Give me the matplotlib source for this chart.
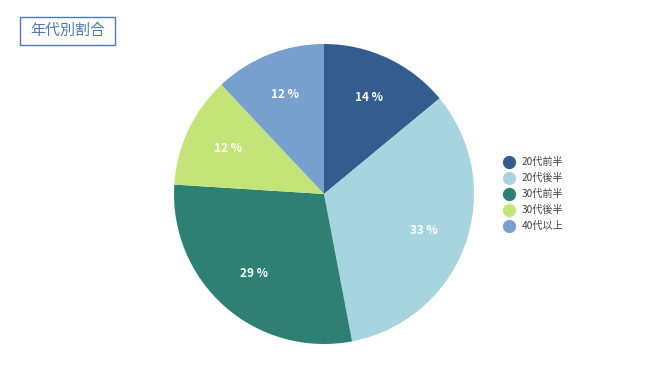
import matplotlib
matplotlib.use('Agg')
import matplotlib.pyplot as plt
from matplotlib.lines import Line2D
from matplotlib.patches import Rectangle

# Data
categories = ['20代前半', '20代後半', '30代前半', '30代後半', '40代以上']
shares = [14, 33, 29, 12, 12]
colors = ['#335D8F', '#A6D4DF', '#2E8172', '#C3E478', '#77A0CE']

plt.rcParams['font.family'] = ['Noto Sans CJK JP', 'DejaVu Sans']

fig = plt.figure(figsize=(6.5, 3.85), dpi=100)
ax = fig.add_axes([174/650, 41/385, 300/650, 300/385])

wedges, texts, autotexts = ax.pie(
    shares, colors=colors, startangle=90, counterclock=False,
    autopct=lambda p: '%d %%' % round(p), pctdistance=0.71,
    wedgeprops=dict(edgecolor='none', linewidth=0),
    textprops=dict(color='white', fontsize=8.5, fontweight='bold'))
ax.set_xlim(-1, 1); ax.set_ylim(-1, 1)
ax.set_aspect('equal')

# Legend
handles = [Line2D([], [], marker='o', linestyle='', markersize=8.5,
                  markerfacecolor=c, markeredgecolor=c) for c in colors]
leg = fig.legend(handles, categories, loc='upper left',
                 bbox_to_anchor=(499/650, 1 - 153/385), frameon=False,
                 fontsize=7.3, handletextpad=0.6, labelspacing=0.6,
                 handlelength=1.2, borderaxespad=0)
for t in leg.get_texts():
    t.set_color('#404040')

# Title box
fig.add_artist(Rectangle((20/650, 1 - 45/385), 95/650, 28/385,
                         transform=fig.transFigure, facecolor='white',
                         edgecolor='#4E78B5', linewidth=1))
fig.text(67.5/650, 1 - 31/385, '年代別割合', ha='center', va='center',
         fontsize=10.8, color='#4E78B5')

fig.savefig('out.png', dpi=100)
